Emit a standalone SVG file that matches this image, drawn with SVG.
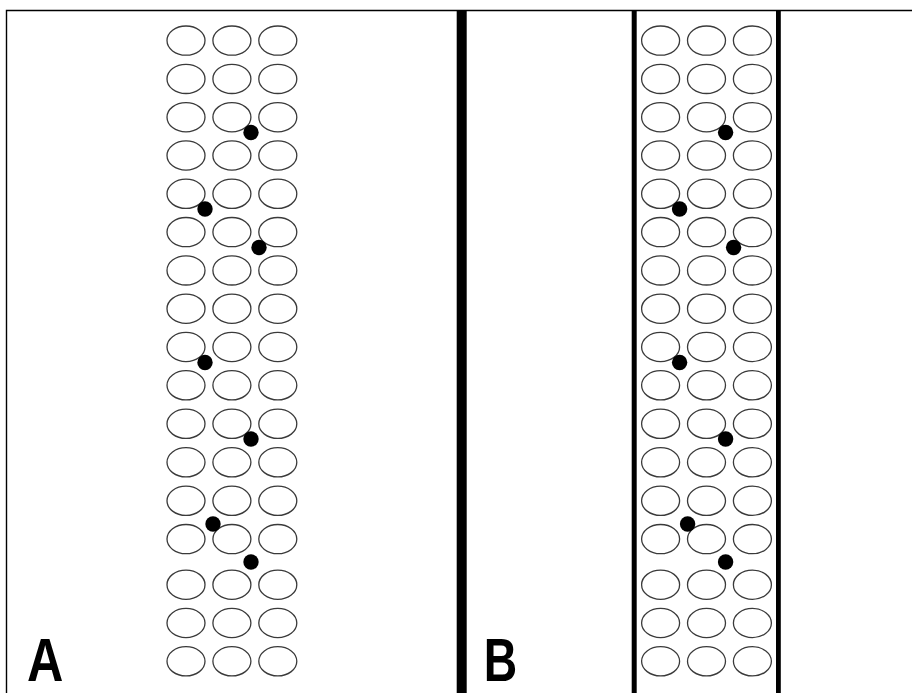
<svg xmlns="http://www.w3.org/2000/svg" xmlns:xlink="http://www.w3.org/1999/xlink" width="912" height="693" viewBox="0 0 912 693">
<style>
.c{fill:none;stroke:#3a3a3a;stroke-width:1.3}
.d{fill:#000}
.lab{font-family:"Liberation Sans",Arial,sans-serif;font-weight:bold;font-size:61px;fill:#000}
</style>
<defs>
<g id="row"><ellipse class="c" cx="186" cy="0" rx="19" ry="14.6"/><ellipse class="c" cx="231.9" cy="0" rx="19" ry="14.6"/><ellipse class="c" cx="277.8" cy="0" rx="19" ry="14.6"/></g>
<g id="cells">
<use xlink:href="#row" y="40.6"/>
<use xlink:href="#row" y="78.9"/>
<use xlink:href="#row" y="117.2"/>
<use xlink:href="#row" y="155.5"/>
<use xlink:href="#row" y="193.8"/>
<use xlink:href="#row" y="232.1"/>
<use xlink:href="#row" y="270.4"/>
<use xlink:href="#row" y="308.7"/>
<use xlink:href="#row" y="347"/>
<use xlink:href="#row" y="385.3"/>
<use xlink:href="#row" y="423.8"/>
<use xlink:href="#row" y="462.3"/>
<use xlink:href="#row" y="500.8"/>
<use xlink:href="#row" y="539.1"/>
<use xlink:href="#row" y="584.7"/>
<use xlink:href="#row" y="623"/>
<use xlink:href="#row" y="661.3"/>
</g>
<g id="dots">
<circle class="d" cx="251" cy="132.5" r="7.7"/>
<circle class="d" cx="205" cy="209" r="7.7"/>
<circle class="d" cx="259" cy="247.5" r="7.7"/>
<circle class="d" cx="205" cy="362.5" r="7.7"/>
<circle class="d" cx="251" cy="439" r="7.7"/>
<circle class="d" cx="213" cy="524" r="7.7"/>
<circle class="d" cx="251" cy="562" r="7.7"/>
</g>
</defs>
<rect width="912" height="693" fill="#fff"/>
<g id="frame" fill="none" stroke="#000">
<path d="M6.5 693V10.5H912" stroke-width="1.4"/>
<rect x="456.7" y="10" width="10" height="683" fill="#000" stroke="none"/>
</g>
<g id="panelA">
<use xlink:href="#cells"/>
<use xlink:href="#dots"/>
<text class="lab" transform="translate(27,681) scale(0.825,1)">A</text>
</g>
<g id="panelB">
<rect x="631.7" y="10" width="5" height="683" fill="#000"/>
<rect x="776" y="10" width="4.8" height="683" fill="#000"/>
<use xlink:href="#cells" x="474.6"/>
<use xlink:href="#dots" x="474.6"/>
<text class="lab" transform="translate(483.8,681) scale(0.76,1)">B</text>
</g>
</svg>
